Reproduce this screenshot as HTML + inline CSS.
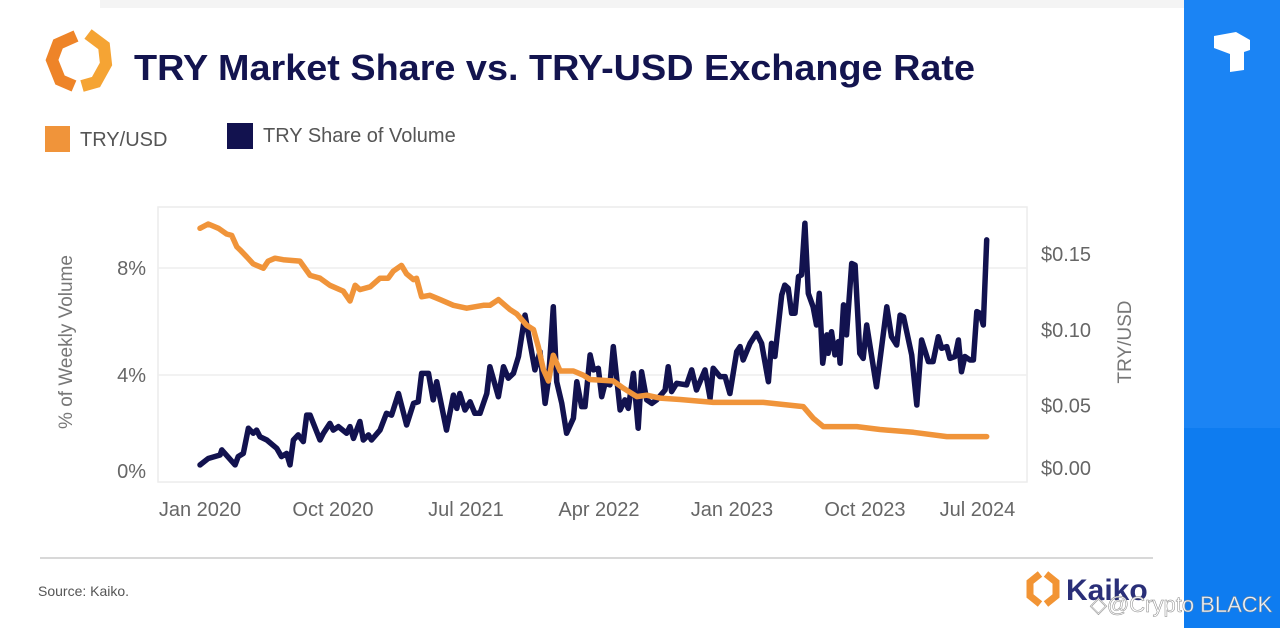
<!DOCTYPE html>
<html><head><meta charset="utf-8"><style>
html,body{margin:0;padding:0;background:#fff;}
body{width:1280px;height:628px;overflow:hidden;position:relative;font-family:"Liberation Sans",Arial,sans-serif;}
</style></head><body>
<svg id="chart" width="1280" height="628" viewBox="0 0 1280 628" xmlns="http://www.w3.org/2000/svg">
<rect x="100" y="0" width="1085" height="8" fill="#f4f4f4"/>
<g fill="none" stroke-width="12" stroke-linejoin="miter">
<polyline points="76,36 58,44 52,60 60,80 74,86" stroke="#ee8428"/>
<polyline points="88,34 104,46 106,64 96,82 82,86" stroke="#f5a434"/>
</g>
<text x="134" y="80" font-size="36" font-weight="bold" fill="#13144f" textLength="841" lengthAdjust="spacingAndGlyphs">TRY Market Share vs. TRY-USD Exchange Rate</text>
<rect x="45" y="126" width="25" height="26" fill="#f0943a"/>
<text x="80" y="146" font-size="20" fill="#555">TRY/USD</text>
<rect x="227" y="123" width="26" height="26" fill="#12124f"/>
<text x="263" y="142" font-size="20" fill="#555">TRY Share of Volume</text>
<rect x="158" y="207" width="869" height="275" fill="none" stroke="#ececec" stroke-width="1.5"/>
<g id="grid"></g>
<g id="series"></g>
<g id="axes" font-size="20" fill="#666"></g>
<text transform="translate(72,342) rotate(-90)" text-anchor="middle" font-size="19" fill="#777">% of Weekly Volume</text>
<text transform="translate(1131,342) rotate(-90)" text-anchor="middle" font-size="19" fill="#777">TRY/USD</text>
<line x1="40" y1="558" x2="1153" y2="558" stroke="#ccc" stroke-width="1.5"/>
<text x="38" y="596" font-size="14" fill="#555">Source: Kaiko.</text>
<g>
<path d="M1040,574 l-10,8 l0,14 l10,8" stroke="#f29434" stroke-width="7" fill="none"/>
<path d="M1046,574 l10,8 l0,14 l-10,8" stroke="#f29434" stroke-width="7" fill="none"/>
<text x="1066" y="600" font-size="30" font-weight="bold" fill="#2a2f78">Kaiko</text>
</g>
<rect x="1184" y="0" width="96" height="428" fill="#1b84f4"/>
<rect x="1184" y="428" width="96" height="200" fill="#0e7cf0"/>
<path d="M1214,36 l22,-4 l14,8 l0,10 l-6,2 l0,18 l-14,2 l0,-18 l-16,-6 z" fill="#fff"/>
<text x="1090" y="612" font-size="22" fill="#fff" fill-opacity="0.9" stroke="#888" stroke-width="0.5">◇@Crypto BLACK</text>
</svg>
<script>
const shareWeeks=[0,2.4,5.9,6.4,10.3,11.2,12.7,14.2,15.6,16.6,17.6,19.6,22.5,23.9,25.4,26.4,27.4,28.8,30.3,31.3,32.3,35.2,36.2,38.1,39.1,40.6,43,44,45,46.9,47.9,49.4,50.3,52.8,54.7,56.2,58.2,60.6,62.6,64,65,67,68.4,69.4,72.3,74.3,75.3,76.2,77.7,79.2,80.6,82.1,84.1,85,87.5,89,90.4,91.9,93.4,95.3,96.8,98.2,99.7,101.2,102.2,103.6,104.6,106.1,107.5,109.5,110.5,111.9,112.9,114.4,115.4,116.8,117.8,118.8,120.2,121.2,123.2,124.6,125.6,127.1,128.5,129.5,131,132.5,133.9,136.4,137.3,138.3,139.8,142.7,144.2,145.6,148.1,149.6,150.5,152.5,154,155.4,157.4,158.4,159.3,161.3,163.2,164.7,166.7,167.6,168.6,170.6,171.5,172.5,173.5,174.5,175.5,176.4,177.4,178.4,179.8,180.8,181.6,182.6,183.8,184.2,185.2,186.2,187.2,187.7,188.7,189.6,191.1,192.1,193.5,194.5,195.5,198.4,201.4,202.8,204.3,205.3,206.3,208.7,210.2,211.6,213.6,215,216.5,217.5,219,219.9,221.4,222.4,223.3,224.3,225.8,226.8,227.8,228.7,229.7,230.7];
const shareValues=[0.64,0.88,1.01,1.2,0.64,0.95,1.07,2.01,1.82,1.94,1.69,1.57,1.26,0.95,1.07,0.64,1.57,1.76,1.51,2.5,2.5,1.57,1.82,2.19,1.94,2.07,1.82,2.07,1.63,2.26,1.57,1.76,1.57,1.94,2.57,2.5,3.31,2.13,2.94,3,4.06,4.06,3.07,3.75,1.94,3.25,2.75,3.31,2.69,3,2.57,2.57,3.31,4.31,3.19,4.31,3.88,4.06,4.69,6.24,5.18,4.19,4.87,2.94,3.81,6.55,3.75,2.94,1.82,2.38,3.75,2.82,2.82,4.75,4.19,4.25,3.19,3.69,3.63,5.06,2.69,3.07,2.75,4.06,2.01,4.12,3.07,2.94,3.07,3.44,4.31,3.38,3.69,3.63,4.19,3.44,4.19,3.13,4.25,3.94,3.94,3.31,4.87,5.06,4.56,5.18,5.56,5.18,3.75,5.18,4.69,6.99,7.36,7.24,6.31,6.31,7.68,7.74,9.67,7.05,6.55,5.87,7.05,4.44,5.5,4.81,5.62,4.75,5.25,4.44,6.62,5.5,8.17,8.11,4.81,4.62,5.87,3.56,6.55,5.43,5.12,6.24,6.18,4.75,2.88,5.31,4.5,4.5,5.43,5,5.06,4.62,4.69,5.31,4.12,4.69,4.56,4.56,6.37,6.31,5.87,9.05];
const fxWeeks=[0,2.4,5.4,7.8,9.3,10.8,11.7,13.7,15.6,18.6,20,22,24.4,29.3,32.3,35.2,38.1,42,44,45.5,46.9,49.9,52.8,55.2,56.7,59.1,60.6,62.6,63.5,65,67.4,70.4,74.3,78.2,83.1,85,87.5,90.9,92.9,95.8,97.8,99.2,100.7,102.2,103.6,105.6,109.5,112.4,114.4,121.2,124.1,128.1,131,134.9,140.8,150.5,165.2,176.9,179.8,182.8,189.6,192.6,199.4,209.2,219,230.7];
const fxValues=[0.168,0.171,0.168,0.164,0.163,0.155,0.153,0.148,0.143,0.14,0.145,0.147,0.146,0.145,0.135,0.133,0.128,0.124,0.117,0.128,0.125,0.127,0.133,0.133,0.138,0.142,0.136,0.132,0.133,0.12,0.121,0.118,0.114,0.112,0.114,0.114,0.118,0.111,0.108,0.1,0.097,0.085,0.069,0.061,0.079,0.068,0.068,0.065,0.062,0.061,0.056,0.05,0.051,0.049,0.048,0.046,0.046,0.043,0.035,0.029,0.029,0.029,0.027,0.025,0.022,0.022];
const xTickLabels=["Jan 2020","Oct 2020","Jul 2021","Apr 2022","Jan 2023","Oct 2023","Jul 2024"];
const xTickWeeks=[0,39,78,117,156,195,228];
const leftTicks=[0,4,8];
const leftTickLabels=["0%","4%","8%"];
const rightTicks=[0,0.05,0.10,0.15];
const rightTickLabels=["$0.00","$0.05","$0.10","$0.15"];

const NS="http://www.w3.org/2000/svg";
const xScale=w=>200+w*3.41;
const yLeft=v=>482-v*26.75;
const yRight=v=>468-v*1427;
function mk(tag,attrs,parent){const e=document.createElementNS(NS,tag);for(const k in attrs)e.setAttribute(k,attrs[k]);parent.appendChild(e);return e;}
const grid=document.getElementById('grid'),series=document.getElementById('series'),axes=document.getElementById('axes');
leftTicks.forEach((t,i)=>{
  if(t>0){const g=mk('line',{x1:158,x2:1027,y1:yLeft(t),y2:yLeft(t),stroke:'#eeeeee','stroke-width':1.5},grid);
  
  }
  const lb=mk('text',{x:146,y:yLeft(t)+(t===0?-4:7),'text-anchor':'end'},axes);lb.textContent=leftTickLabels[i];
  
  
});
rightTicks.forEach((t,i)=>{
  const lb=mk('text',{x:1041,y:yRight(t)+7+(t>0?(0.15-t)*90:0)},axes);lb.textContent=rightTickLabels[i];
  
  
});
xTickWeeks.forEach((w,i)=>{
  const lb=mk('text',{x:xScale(w),y:516,'text-anchor':'middle'},axes);lb.textContent=xTickLabels[i];
  
  
});
const fxPts=fxWeeks.map((w,i)=>xScale(w).toFixed(1)+','+yRight(fxValues[i]).toFixed(1)).join(' ');
const fxLine=mk('polyline',{points:fxPts,fill:'none',stroke:'#f0943a','stroke-width':5.5,'stroke-linejoin':'round','stroke-linecap':'round'},series);


const shPts=shareWeeks.map((w,i)=>xScale(w).toFixed(1)+','+yLeft(shareValues[i]).toFixed(1)).join(' ');
const shLine=mk('polyline',{points:shPts,fill:'none',stroke:'#12124f','stroke-width':5.5,'stroke-linejoin':'round','stroke-linecap':'round'},series);


series.appendChild(fxLine);
</script>
</body></html>
